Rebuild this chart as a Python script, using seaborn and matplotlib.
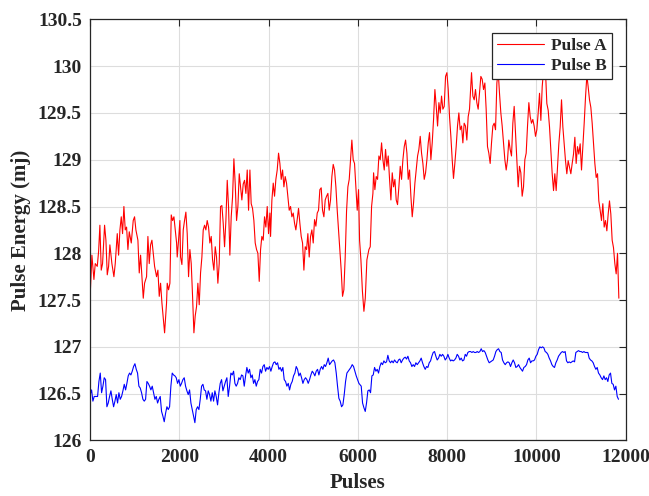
import matplotlib
matplotlib.use("Agg")
import matplotlib.pyplot as plt
import seaborn as sns
import pandas as pd

# ── Data ──────────────────────────────────────────────────────
a_pulses = [0, 38, 83, 113, 158, 188, 217, 247, 277, 322, 352, 382, 412, 441, 486, 531, 561, 606,
            636, 666, 696, 725, 755, 785, 815, 845, 875, 920, 964, 994, 1024, 1069, 1099, 1129,
            1159, 1189, 1218, 1263, 1293, 1323, 1353, 1383, 1413, 1443, 1487, 1517, 1547, 1577,
            1607, 1637, 1667, 1711, 1726, 1756, 1786, 1816, 1846, 1876, 1906, 1936, 1950, 1980,
            2010, 2025, 2055, 2085, 2114, 2144, 2174, 2204, 2234, 2264, 2294, 2324, 2353, 2383,
            2413, 2443, 2473, 2503, 2533, 2563, 2592, 2622, 2652, 2682, 2712, 2742, 2772, 2802,
            2831, 2861, 2891, 2921, 2951, 2981, 3011, 3041, 3071, 3100, 3130, 3160, 3190, 3220,
            3250, 3280, 3310, 3340, 3369, 3399, 3429, 3459, 3489, 3519, 3549, 3579, 3608, 3638,
            3668, 3698, 3728, 3758, 3788, 3818, 3847, 3877, 3907, 3937, 3967, 3997, 4027, 4042,
            4072, 4102, 4131, 4161, 4191, 4221, 4251, 4281, 4311, 4341, 4370, 4400, 4430, 4460,
            4490, 4520, 4550, 4580, 4609, 4639, 4669, 4699, 4729, 4759, 4789, 4819, 4849, 4878,
            4908, 4938, 4968, 4998, 5028, 5058, 5088, 5117, 5147, 5177, 5207, 5237, 5267, 5297,
            5327, 5356, 5386, 5416, 5446, 5476, 5506, 5536, 5566, 5596, 5625, 5655, 5685, 5715,
            5745, 5775, 5805, 5835, 5864, 5894, 5924, 5954, 5984, 6014, 6037, 6067, 6100, 6134,
            6165, 6201, 6246, 6276, 6306, 6336, 6351, 6380, 6410, 6440, 6470, 6500, 6530, 6560,
            6590, 6619, 6649, 6679, 6709, 6739, 6769, 6799, 6829, 6858, 6888, 6918, 6948, 6978,
            7008, 7038, 7068, 7098, 7127, 7157, 7187, 7217, 7247, 7277, 7307, 7337, 7366, 7396,
            7426, 7456, 7486, 7516, 7546, 7576, 7605, 7635, 7665, 7695, 7725, 7755, 7785, 7815,
            7845, 7874, 7904, 7934, 7964, 7994, 8024, 8053, 8083, 8113, 8142, 8172, 8202, 8232,
            8262, 8292, 8322, 8352, 8381, 8411, 8441, 8471, 8501, 8531, 8546, 8576, 8606, 8635,
            8665, 8695, 8725, 8755, 8785, 8815, 8845, 8874, 8904, 8934, 8964, 8994, 9024, 9054,
            9084, 9114, 9143, 9173, 9203, 9233, 9263, 9293, 9323, 9353, 9382, 9412, 9442, 9472,
            9502, 9532, 9562, 9592, 9621, 9651, 9681, 9711, 9741, 9771, 9801, 9831, 9861, 9890,
            9920, 9950, 9980, 10010, 10040, 10070, 10100, 10130, 10159, 10204, 10234, 10264,
            10294, 10324, 10354, 10384, 10413, 10443, 10473, 10503, 10533, 10563, 10593, 10623,
            10652, 10682, 10712, 10742, 10772, 10802, 10832, 10862, 10891, 10921, 10951, 10981,
            11011, 11041, 11071, 11101, 11131, 11160, 11190, 11220, 11250, 11280, 11310, 11340,
            11370, 11399, 11429, 11459, 11489, 11519, 11549, 11579, 11609, 11638, 11668, 11698,
            11728, 11758, 11788, 11818, 11848]
a_energy = [127.56, 127.98, 127.72, 127.89, 127.86, 128.02, 128.30, 127.82, 127.89, 128.30, 128.14,
            127.77, 127.86, 128.09, 127.89, 127.75, 127.89, 128.21, 127.98, 128.25, 128.39, 128.21,
            128.50, 128.25, 128.28, 128.04, 128.23, 128.11, 128.35, 128.39, 128.25, 128.14, 127.79,
            127.98, 127.75, 127.52, 127.68, 127.75, 128.18, 127.89, 128.09, 128.14, 128.00, 127.86,
            127.75, 127.82, 127.54, 127.68, 127.47, 127.31, 127.15, 127.47, 127.68, 127.61, 127.68,
            128.41, 128.35, 128.39, 128.25, 128.11, 127.96, 128.14, 128.35, 127.96, 127.88, 128.25,
            128.35, 128.44, 128.21, 127.75, 128.04, 127.89, 127.54, 127.15, 127.33, 127.43, 127.68,
            127.45, 127.79, 127.96, 128.25, 128.30, 128.25, 128.35, 128.28, 128.11, 128.18, 127.93,
            127.82, 128.07, 127.96, 127.68, 127.89, 128.50, 128.51, 128.32, 128.07, 128.35, 128.78,
            128.50, 127.98, 128.39, 128.60, 129.01, 128.74, 128.35, 128.50, 128.85, 128.71, 128.57,
            128.74, 128.78, 128.64, 128.89, 128.46, 128.89, 128.53, 128.48, 128.35, 128.11, 128.04,
            128.00, 127.70, 128.04, 128.18, 128.14, 128.39, 128.28, 128.50, 128.21, 128.43, 128.18,
            128.57, 128.75, 128.61, 128.79, 128.89, 129.07, 128.96, 128.79, 128.89, 128.71, 128.82,
            128.75, 128.61, 128.46, 128.50, 128.39, 128.43, 128.32, 128.25, 128.36, 128.48, 128.32,
            128.18, 128.11, 127.82, 128.07, 128.04, 128.21, 127.96, 128.18, 128.25, 128.11, 128.36,
            128.29, 128.43, 128.46, 128.68, 128.70, 128.46, 128.39, 128.57, 128.61, 128.64, 128.46,
            128.57, 128.82, 128.95, 128.89, 128.71, 128.46, 128.25, 128.04, 127.82, 127.54, 127.61,
            127.96, 128.45, 128.71, 128.79, 129.00, 129.21, 129.00, 128.96, 128.71, 128.46, 128.68,
            128.14, 127.93, 127.60, 127.38, 127.52, 127.93, 128.04, 128.07, 128.50, 128.64, 128.86,
            128.68, 128.82, 128.79, 129.04, 129.00, 129.18, 129.00, 128.89, 129.11, 128.93, 129.04,
            128.79, 128.57, 128.86, 128.71, 128.79, 128.57, 128.52, 128.71, 128.93, 128.79, 129.00,
            129.14, 129.21, 129.07, 128.79, 128.89, 128.61, 128.39, 128.54, 128.75, 128.89, 129.04,
            129.11, 129.25, 129.07, 128.96, 128.79, 128.86, 129.00, 129.18, 129.29, 129.00, 129.18,
            129.43, 129.75, 129.57, 129.36, 129.61, 129.50, 129.68, 129.54, 129.57, 129.89, 129.93,
            129.75, 129.46, 129.25, 129.00, 128.80, 128.96, 129.14, 129.36, 129.50, 129.32, 129.36,
            129.18, 129.39, 129.36, 129.21, 129.46, 129.54, 129.79, 129.93, 129.68, 129.64, 129.75,
            129.61, 129.54, 129.71, 129.89, 129.86, 129.75, 129.82, 129.54, 129.14, 129.07, 128.96,
            129.18, 129.36, 129.39, 129.32, 129.82, 129.95, 129.71, 129.50, 129.36, 129.18, 129.00,
            128.89, 129.00, 129.21, 129.11, 129.04, 129.39, 129.57, 129.29, 129.00, 128.71, 128.93,
            128.86, 128.61, 128.71, 129.00, 129.07, 129.36, 129.61, 129.46, 129.39, 129.43, 129.36,
            129.25, 129.32, 129.50, 129.71, 129.42, 129.78, 129.95, 129.95, 129.60, 129.53, 129.35,
            129.10, 128.85, 128.67, 128.85, 128.67, 128.92, 129.17, 129.35, 129.64, 129.35, 129.17,
            128.99, 128.85, 128.99, 128.92, 128.85, 128.96, 129.06, 129.24, 128.96, 129.14, 129.06,
            129.17, 128.89, 129.14, 129.39, 129.67, 129.90, 129.78, 129.64, 129.56, 129.39, 129.17,
            128.96, 128.81, 128.85, 128.56, 128.46, 128.35, 128.53, 128.28, 128.35, 128.24, 128.42,
            128.56, 128.42, 128.14, 128.06, 127.89, 127.78, 128.00, 127.52]

b_pulses = [0, 31, 60, 90, 120, 165, 195, 225, 255, 285, 314, 344, 374, 404, 434, 464, 494, 524,
            554, 583, 613, 643, 673, 703, 733, 763, 793, 822, 852, 882, 912, 942, 972, 1002, 1032,
            1061, 1091, 1121, 1151, 1181, 1211, 1241, 1271, 1300, 1330, 1360, 1390, 1420, 1450,
            1480, 1510, 1539, 1569, 1599, 1629, 1659, 1689, 1719, 1749, 1779, 1808, 1838, 1868,
            1898, 1928, 1958, 1988, 2018, 2047, 2077, 2107, 2137, 2167, 2197, 2227, 2257, 2286,
            2316, 2346, 2376, 2406, 2436, 2466, 2496, 2526, 2555, 2585, 2615, 2645, 2675, 2705,
            2735, 2765, 2794, 2824, 2854, 2884, 2914, 2944, 2974, 3004, 3033, 3063, 3093, 3123,
            3153, 3183, 3213, 3243, 3272, 3302, 3332, 3362, 3392, 3422, 3452, 3482, 3511, 3541,
            3571, 3601, 3631, 3661, 3691, 3721, 3750, 3780, 3810, 3840, 3870, 3900, 3930, 3960,
            3989, 4019, 4049, 4079, 4109, 4139, 4169, 4199, 4229, 4258, 4288, 4318, 4348, 4378,
            4408, 4438, 4468, 4497, 4527, 4557, 4587, 4617, 4647, 4677, 4707, 4737, 4767, 4796,
            4826, 4856, 4886, 4916, 4946, 4976, 5006, 5035, 5065, 5095, 5125, 5155, 5185, 5215,
            5245, 5274, 5304, 5334, 5364, 5394, 5424, 5454, 5484, 5514, 5543, 5573, 5603, 5633,
            5663, 5693, 5723, 5753, 5782, 5812, 5842, 5872, 5902, 5932, 5962, 5992, 6022, 6074,
            6104, 6134, 6164, 6193, 6223, 6253, 6283, 6313, 6343, 6373, 6403, 6432, 6462, 6492,
            6522, 6552, 6582, 6612, 6642, 6671, 6701, 6731, 6761, 6791, 6821, 6851, 6881, 6910,
            6940, 6970, 7000, 7030, 7060, 7090, 7120, 7150, 7179, 7209, 7239, 7269, 7299, 7329,
            7359, 7389, 7418, 7448, 7478, 7508, 7538, 7568, 7598, 7628, 7657, 7687, 7717, 7747,
            7777, 7807, 7837, 7867, 7897, 7926, 7956, 7986, 8016, 8046, 8076, 8106, 8136, 8165,
            8195, 8225, 8255, 8285, 8315, 8345, 8375, 8405, 8434, 8464, 8494, 8524, 8554, 8584,
            8614, 8644, 8673, 8703, 8733, 8763, 8793, 8823, 8853, 8883, 8912, 8942, 8972, 9002,
            9032, 9062, 9092, 9122, 9152, 9181, 9211, 9241, 9271, 9301, 9331, 9361, 9391, 9420,
            9450, 9480, 9510, 9540, 9570, 9600, 9630, 9660, 9689, 9719, 9749, 9779, 9809, 9839,
            9869, 9899, 9928, 9958, 9988, 10018, 10048, 10078, 10108, 10138, 10167, 10197, 10227,
            10257, 10287, 10317, 10347, 10377, 10406, 10436, 10466, 10496, 10526, 10556, 10586,
            10616, 10645, 10675, 10705, 10735, 10765, 10795, 10825, 10855, 10884, 10914, 10944,
            10974, 11004, 11034, 11064, 11094, 11123, 11153, 11183, 11213, 11243, 11273, 11303,
            11333, 11362, 11392, 11422, 11452, 11482, 11512, 11542, 11572, 11601, 11631, 11661,
            11691, 11721, 11751, 11781, 11811, 11840]
b_energy = [126.49, 126.54, 126.42, 126.47, 126.47, 126.47, 126.63, 126.72, 126.51, 126.58, 126.67,
            126.65, 126.36, 126.40, 126.47, 126.53, 126.44, 126.36, 126.42, 126.49, 126.40, 126.51,
            126.44, 126.47, 126.53, 126.60, 126.54, 126.61, 126.69, 126.72, 126.70, 126.74, 126.79,
            126.82, 126.76, 126.72, 126.58, 126.56, 126.51, 126.44, 126.42, 126.44, 126.63, 126.61,
            126.58, 126.54, 126.58, 126.51, 126.44, 126.47, 126.40, 126.44, 126.47, 126.31, 126.26,
            126.20, 126.29, 126.36, 126.33, 126.36, 126.58, 126.72, 126.70, 126.69, 126.67, 126.61,
            126.65, 126.58, 126.61, 126.65, 126.67, 126.58, 126.53, 126.49, 126.54, 126.40, 126.33,
            126.26, 126.19, 126.33, 126.36, 126.33, 126.44, 126.58, 126.60, 126.54, 126.53, 126.44,
            126.53, 126.49, 126.42, 126.51, 126.42, 126.53, 126.47, 126.38, 126.51, 126.61, 126.65,
            126.53, 126.58, 126.63, 126.67, 126.47, 126.58, 126.72, 126.70, 126.74, 126.61, 126.58,
            126.61, 126.67, 126.65, 126.70, 126.69, 126.58, 126.69, 126.78, 126.72, 126.76, 126.67,
            126.70, 126.61, 126.65, 126.58, 126.63, 126.65, 126.76, 126.72, 126.79, 126.81, 126.74,
            126.78, 126.76, 126.79, 126.74, 126.79, 126.83, 126.84, 126.81, 126.83, 126.76, 126.78,
            126.74, 126.78, 126.65, 126.63, 126.58, 126.61, 126.54, 126.60, 126.63, 126.69, 126.72,
            126.79, 126.76, 126.69, 126.72, 126.67, 126.61, 126.65, 126.67, 126.65, 126.61, 126.65,
            126.70, 126.74, 126.72, 126.69, 126.74, 126.76, 126.70, 126.76, 126.79, 126.76, 126.81,
            126.79, 126.83, 126.88, 126.81, 126.83, 126.85, 126.86, 126.83, 126.72, 126.58, 126.45,
            126.42, 126.36, 126.38, 126.49, 126.63, 126.72, 126.74, 126.76, 126.78, 126.81, 126.79,
            126.74, 126.69, 126.65, 126.61, 126.58, 126.40, 126.35, 126.31, 126.40, 126.53, 126.54,
            126.51, 126.69, 126.70, 126.78, 126.74, 126.76, 126.72, 126.79, 126.83, 126.81, 126.85,
            126.83, 126.84, 126.91, 126.85, 126.83, 126.85, 126.83, 126.86, 126.84, 126.83, 126.86,
            126.87, 126.83, 126.86, 126.88, 126.89, 126.87, 126.90, 126.85, 126.83, 126.79, 126.81,
            126.79, 126.83, 126.81, 126.83, 126.85, 126.88, 126.83, 126.79, 126.76, 126.79, 126.78,
            126.83, 126.85, 126.90, 126.94, 126.95, 126.90, 126.86, 126.88, 126.92, 126.90, 126.92,
            126.90, 126.86, 126.88, 126.92, 126.88, 126.85, 126.86, 126.85, 126.86, 126.88, 126.92,
            126.90, 126.86, 126.88, 126.85, 126.86, 126.92, 126.90, 126.94, 126.95, 126.95, 126.94,
            126.95, 126.94, 126.94, 126.95, 126.94, 126.95, 126.98, 126.95, 126.96, 126.94, 126.90,
            126.86, 126.83, 126.84, 126.85, 126.86, 126.90, 126.95, 126.97, 126.98, 126.95, 126.94,
            126.86, 126.83, 126.81, 126.83, 126.84, 126.83, 126.79, 126.83, 126.86, 126.83, 126.78,
            126.79, 126.81, 126.78, 126.76, 126.74, 126.78, 126.79, 126.81, 126.86, 126.88, 126.83,
            126.85, 126.85, 126.86, 126.90, 126.92, 126.97, 127.00, 126.99, 127.00, 126.99, 126.95,
            126.94, 126.92, 126.88, 126.85, 126.81, 126.79, 126.78, 126.83, 126.86, 126.90, 126.92,
            126.94, 126.95, 126.94, 126.95, 126.85, 126.83, 126.84, 126.83, 126.84, 126.85, 126.84,
            126.94, 126.95, 126.96, 126.95, 126.95, 126.94, 126.95, 126.94, 126.94, 126.94, 126.88,
            126.86, 126.85, 126.83, 126.79, 126.76, 126.78, 126.72, 126.70, 126.67, 126.65, 126.69,
            126.65, 126.67, 126.63, 126.70, 126.72, 126.61, 126.60, 126.54, 126.58, 126.47, 126.44]

x_ticks = [0, 2000, 4000, 6000, 8000, 10000, 12000]
y_ticks = [126, 126.5, 127, 127.5, 128, 128.5, 129, 129.5, 130, 130.5]

df = pd.concat([
    pd.DataFrame({"Pulses": a_pulses, "Energy": a_energy, "Series": "Pulse A"}),
    pd.DataFrame({"Pulses": b_pulses, "Energy": b_energy, "Series": "Pulse B"}),
], ignore_index=True)

sns.set_style("white")
plt.rcParams["font.family"] = ["Liberation Serif", "DejaVu Serif"]
plt.rcParams["font.weight"] = "bold"

fig = plt.figure(figsize=(6.49, 4.96), dpi=100)
ax = fig.add_axes([0.139, 0.112, 0.825, 0.849])

sns.lineplot(data=df, x="Pulses", y="Energy", hue="Series",
             palette={"Pulse A": "#ff0000", "Pulse B": "#0000ff"},
             estimator=None, sort=False, linewidth=0.8, ax=ax)

ax.set_xlim(0, 12000)
ax.set_ylim(126, 130.5)
ax.set_xticks(x_ticks)
ax.set_yticks(y_ticks)
ax.set_xticklabels([str(t) for t in x_ticks])
ax.set_yticklabels([f"{t:g}" for t in y_ticks])
ax.grid(True, color="#dddddd", linewidth=0.8)
ax.tick_params(direction="in", length=5, width=0.8, top=True, right=True,
               labelsize=14, colors="#262626", pad=6)
for lab in ax.get_xticklabels() + ax.get_yticklabels():
    lab.set_fontweight("bold")
for s in ax.spines.values():
    s.set_color("#262626")
    s.set_linewidth(0.9)

ax.set_xlabel("Pulses", fontsize=15, fontweight="bold", color="#262626", labelpad=5)
ax.set_ylabel("Pulse Energy (mj)", fontsize=15, fontweight="bold", color="#262626", labelpad=5)

leg = ax.legend(loc="upper right", bbox_to_anchor=(0.975, 0.968), borderaxespad=0,
                fontsize=12.5, frameon=True, fancybox=False, edgecolor="#262626",
                framealpha=1, handlelength=2.7, borderpad=0.3, labelspacing=0.2,
                handletextpad=0.4)
leg.get_frame().set_linewidth(0.9)
for t in leg.get_texts():
    t.set_fontweight("bold")

fig.savefig("out.png", dpi=100)
